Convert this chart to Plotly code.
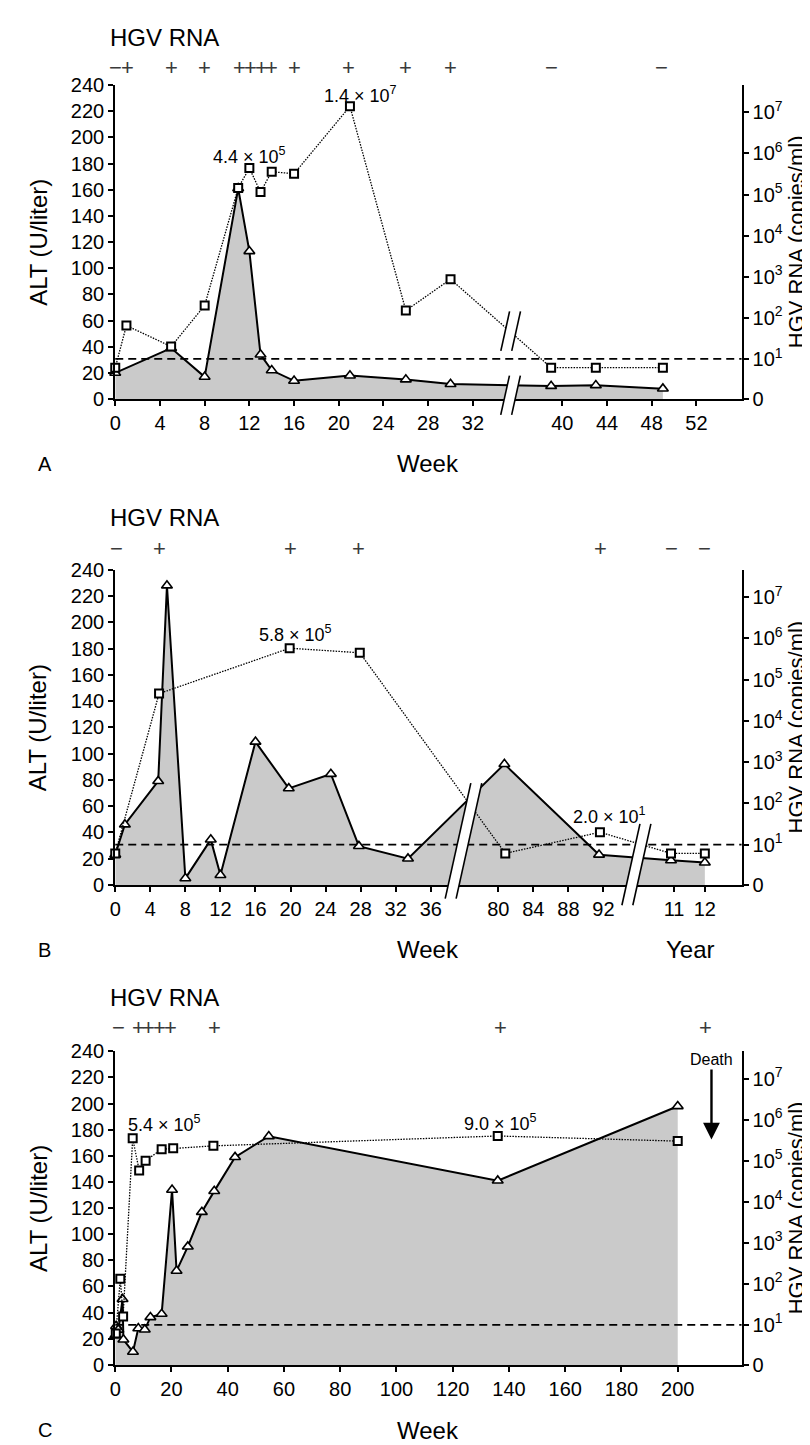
import math
import plotly.graph_objects as go

W, H = 810, 1445
FONT = "Liberation Sans, Arial, Helvetica, sans-serif"
GRAY = "#cacaca"

# ---------------- data ----------------
# Panel A (x in weeks)
A_ALT_WEEK = [0, 5, 8, 11, 12, 13, 14, 16, 21, 26, 30, 39, 43, 49]
A_ALT = [20, 39, 17, 161, 113, 34, 22, 14, 18, 15, 11.5, 10, 10.6, 8]
A_RNA_WEEK = [0, 1, 5, 8, 11, 12, 13, 14, 16, 21, 26, 30, 39, 43, 49]
A_RNA = [0, 65, 20, 200, 1.45e5, 4.4e5, 1.15e5, 3.6e5, 3.2e5, 1.4e7, 150, 870, 0, 0, 0]  # 0 = not detected
A_SIGN_WEEK = [0, 1.1, 5, 8, 11.1, 12.1, 13.1, 14, 16, 20.9, 26, 30, 39, 48.9]
A_SIGN = ["−", "+", "+", "+", "+", "+", "+", "+", "+", "+", "+", "+", "−", "−"]
A_TICKS = [0, 4, 8, 12, 16, 20, 24, 28, 32, 40, 44, 48, 52]

# Panel B (time value + unit: "w" = week, "y" = year)
B_ALT_T = [0, 1.1, 4.9, 5.9, 8, 10.9, 12, 16, 19.8, 24.6, 27.8, 33.4, 80.7, 91.5, 10.9, 12]
B_ALT_U = ["w", "w", "w", "w", "w", "w", "w", "w", "w", "w", "w", "w", "w", "w", "y", "y"]
B_ALT = [23, 46, 79, 228, 5, 34.5, 7.5, 109, 73.5, 84.5, 29.5, 20, 92, 23, 18.7, 17]
B_RNA_T = [0, 5, 19.9, 27.9, 80.8, 91.6, 10.9, 12]
B_RNA_U = ["w", "w", "w", "w", "w", "w", "y", "y"]
B_RNA = [0, 4.6e4, 5.8e5, 4.5e5, 0, 20, 0, 0]
B_SIGN_T = [0.2, 5.1, 20, 27.8, 91.7, 10.9, 12]
B_SIGN_U = ["w", "w", "w", "w", "w", "y", "y"]
B_SIGN = ["−", "+", "+", "+", "+", "−", "−"]
B_TICK_T = [0, 4, 8, 12, 16, 20, 24, 28, 32, 36, 80, 84, 88, 92, 11, 12]
B_TICK_U = ["w", "w", "w", "w", "w", "w", "w", "w", "w", "w", "w", "w", "w", "w", "y", "y"]

# Panel C (x in weeks)
C_ALT_WEEK = [0, 0.3, 1.1, 2.6, 2.9, 6.3, 8.2, 10.5, 12.5, 16.5, 20.2, 21.8, 25.8, 30.8, 35.2, 42.6, 54.6, 136, 200]
C_ALT = [22.6, 29.7, 26.9, 50.3, 19.4, 10, 28, 27, 36.5, 39, 134, 72, 90.5, 117, 133, 159, 175, 141, 198]
C_RNA_WEEK = [0.2, 1.8, 2.8, 6.2, 8.5, 10.8, 16.5, 20.6, 34.9, 136, 200]
C_RNA = [0, 132, 16, 3.5e5, 5.8e4, 1.0e5, 1.9e5, 2.0e5, 2.3e5, 4.0e5, 3.0e5]
C_SIGN_WEEK = [1.2, 8.2, 12, 15.8, 19.5, 35.2, 137, 210]
C_SIGN = ["−", "+", "+", "+", "+", "+", "+", "+"]
C_TICKS = [0, 20, 40, 60, 80, 100, 120, 140, 160, 180, 200]

ALT_TICKS = [0, 20, 40, 60, 80, 100, 120, 140, 160, 180, 200, 220, 240]
RNA_EXP = [1, 2, 3, 4, 5, 6, 7]

# ---------------- scales ----------------
DEC1, DEC, NEG_LEVEL = 30.7, 31.4, 24.0   # right-axis position of 10^1, per decade, "negative"


def rna_pos(c):
    return NEG_LEVEL if c == 0 else DEC1 + (math.log10(c) - 1) * DEC


def b_disp(t, u):
    # panel B axis is broken: weeks 0-36 | weeks 80-92 | years 11-12
    if u == "y":
        return 63.76 + (t - 11) * 3.51
    return t if t <= 40 else t - 36.3


X0, X1 = 102, 733


class Geo:
    def __init__(self, top, bot, xmax):
        self.top, self.bot, self.xmax = top, bot, xmax

    def px(self, x):
        return X0 + x / self.xmax * (X1 - X0)

    def py(self, alt):
        return self.bot - alt / 240 * (self.bot - self.top)


def PX(px):
    return px / W


def PY(py):
    return 1 - py / H


GA = Geo(67, 386, 56.04)
GB = Geo(559.3, 879.3, 71.46)
GC = Geo(1048.3, 1366.7, 222.7)

fig = go.Figure()
annotations = []
shapes = []
layout = {}

panels = [
    dict(g=GA, xa="x", yl="y", yr="y2", letter="A", hgv_y=18.3, sign_y=49.3, title_y=451.7,
         ax=A_ALT_WEEK, ay=A_ALT, rx=A_RNA_WEEK, ry=A_RNA, sx=A_SIGN_WEEK, st=A_SIGN,
         tv=A_TICKS, tt=[str(v) for v in A_TICKS]),
    dict(g=GB, xa="x2", yl="y3", yr="y4", letter="B", hgv_y=505.7, sign_y=537.7, title_y=945,
         ax=[b_disp(t, u) for t, u in zip(B_ALT_T, B_ALT_U)], ay=B_ALT,
         rx=[b_disp(t, u) for t, u in zip(B_RNA_T, B_RNA_U)], ry=B_RNA,
         sx=[b_disp(t, u) for t, u in zip(B_SIGN_T, B_SIGN_U)], st=B_SIGN,
         tv=[b_disp(t, u) for t, u in zip(B_TICK_T, B_TICK_U)], tt=[str(v) for v in B_TICK_T]),
    dict(g=GC, xa="x3", yl="y5", yr="y6", letter="C", hgv_y=993.3, sign_y=1024.3, title_y=1433,
         ax=C_ALT_WEEK, ay=C_ALT, rx=C_RNA_WEEK, ry=C_RNA, sx=C_SIGN_WEEK, st=C_SIGN,
         tv=C_TICKS, tt=[str(v) for v in C_TICKS]),
]

axis_style = dict(ticks="outside", ticklen=5, tickwidth=1.5, tickcolor="black",
                  showline=True, linewidth=2, linecolor="black", showgrid=False,
                  zeroline=False, fixedrange=True,
                  tickfont=dict(size=20, family=FONT, color="black"))


def lname(a):
    return a.replace("x", "xaxis").replace("y", "yaxis")


for p in panels:
    g = p["g"]
    ydom = [PY(g.bot), PY(g.top)]
    layout[lname(p["xa"])] = dict(domain=[PX(X0), PX(X1)], range=[0, g.xmax], anchor=p["yl"],
                                  tickvals=p["tv"], ticktext=p["tt"], **axis_style)
    layout[lname(p["yl"])] = dict(domain=ydom, range=[0, 240], anchor=p["xa"],
                                  tickvals=ALT_TICKS, **axis_style)
    layout[lname(p["yr"])] = dict(range=[0, 240], anchor=p["xa"], overlaying=p["yl"], side="right",
                                  tickvals=[0] + [rna_pos(10 ** k) for k in RNA_EXP],
                                  ticktext=["0"] + ["10<sup>%d</sup>" % k for k in RNA_EXP],
                                  **axis_style)

    fig.add_trace(go.Scatter(
        x=p["ax"], y=p["ay"], xaxis=p["xa"], yaxis=p["yl"], mode="lines+markers",
        fill="tozeroy", fillcolor=GRAY, cliponaxis=False,
        line=dict(color="black", width=2),
        marker=dict(symbol="triangle-up", size=9.5, color="white", line=dict(color="black", width=1.6)),
        hoverinfo="skip"))
    fig.add_trace(go.Scatter(
        x=p["rx"], y=[rna_pos(v) for v in p["ry"]], xaxis=p["xa"], yaxis=p["yr"],
        mode="lines+markers", cliponaxis=False,
        line=dict(color="black", width=1.3, dash="1.5px,1.3px"),
        marker=dict(symbol="square", size=8, color="white", line=dict(color="black", width=2)),
        hoverinfo="skip"))

    # detection limit dashed line (10^1)
    shapes.append(dict(type="line", xref=p["xa"] + " domain", x0=0, x1=1, yref=p["yl"],
                       y0=DEC1, y1=DEC1, line=dict(color="black", width=1.8, dash="8px,5px"),
                       layer="above"))

    # texts
    annotations.append(dict(text="HGV RNA", xref="paper", yref="paper", x=PX(95), y=PY(p["hgv_y"]),
                            xanchor="left", yanchor="middle", showarrow=False,
                            font=dict(size=24, family=FONT, color="black")))
    for sx, st in zip(p["sx"], p["st"]):
        annotations.append(dict(text=st, xref=p["xa"], yref="paper", x=sx, y=PY(p["sign_y"]),
                                xanchor="center", yanchor="middle", showarrow=False,
                                font=dict(size=22, family=FONT, color="#3a3a3a")))
    mid = (g.top + g.bot) / 2
    annotations.append(dict(text="ALT (U/liter)", xref="paper", yref="paper", x=PX(24), y=PY(mid),
                            textangle=-90, showarrow=False, xanchor="center", yanchor="middle",
                            font=dict(size=24, family=FONT, color="black")))
    annotations.append(dict(text="HGV RNA (copies/ml)", xref="paper", yref="paper", x=PX(788), y=PY(mid),
                            textangle=-90, showarrow=False, xanchor="center", yanchor="middle",
                            font=dict(size=22, family=FONT, color="black")))
    annotations.append(dict(text="Week", xref="paper", yref="paper", x=PX(417.5), y=PY(p["title_y"]),
                            showarrow=False, xanchor="center", yanchor="middle",
                            font=dict(size=24, family=FONT, color="black")))
    annotations.append(dict(text=p["letter"], xref="paper", yref="paper", x=PX(31), y=PY(p["title_y"]),
                            showarrow=False, xanchor="center", yanchor="middle",
                            font=dict(size=20, family=FONT, color="black")))

annotations.append(dict(text="Year", xref="paper", yref="paper", x=PX(681.7), y=PY(945),
                        showarrow=False, xanchor="center", yanchor="middle",
                        font=dict(size=24, family=FONT, color="black")))

# value labels
labels = [
    ("x", "y2", 12, rna_pos(4.4e5), "4.4 × 10<sup>5</sup>", 0, 13, "center"),
    ("x", "y2", 21, rna_pos(1.4e7), "1.4 × 10<sup>7</sup>", 11, 12, "center"),
    ("x2", "y4", b_disp(19.9, "w"), rna_pos(5.8e5), "5.8 × 10<sup>5</sup>", 6, 15, "center"),
    ("x2", "y4", b_disp(91.6, "w"), rna_pos(20), "2.0 × 10<sup>1</sup>", 10, 17, "center"),
    ("x3", "y6", 6.2, rna_pos(3.5e5), "5.4 × 10<sup>5</sup>", -7, 15, "left"),
    ("x3", "y6", 136, rna_pos(4.0e5), "9.0 × 10<sup>5</sup>", 3, 13, "center"),
]
for xa, ya, x, y, t, xs, ys, anc in labels:
    annotations.append(dict(text=t, xref=xa, yref=ya, x=x, y=y, xshift=xs, yshift=ys,
                            xanchor=anc, yanchor="middle", showarrow=False,
                            font=dict(size=18, family=FONT, color="black")))

# Death arrow
annotations.append(dict(text="Death", xref="x3", yref="y6", x=212, y=172.5, ax=0, ay=-80,
                        showarrow=True, arrowhead=2, arrowsize=1.4, arrowwidth=2.4, arrowcolor="black",
                        font=dict(size=16, family=FONT, color="black")))


# axis breaks
def add_break(g, xc_data, alt_lo, alt_hi, slant=0.22, gap=11):
    xc = g.px(xc_data)
    yb, yt = g.py(alt_lo), g.py(alt_hi)
    s = slant * (yb - yt) / 2
    l1 = [(xc - gap / 2 - s, yb), (xc - gap / 2 + s, yt)]
    l2 = [(xc + gap / 2 - s, yb), (xc + gap / 2 + s, yt)]
    pts = [l1[0], l1[1], l2[1], l2[0]]
    path = "M " + " L ".join("%.5f,%.5f" % (PX(a), PY(b)) for a, b in pts) + " Z"
    shapes.append(dict(type="path", path=path, xref="paper", yref="paper",
                       fillcolor="white", line=dict(width=0), layer="above"))
    for (a0, b0), (a1, b1) in (l1, l2):
        shapes.append(dict(type="line", xref="paper", yref="paper", x0=PX(a0), y0=PY(b0),
                           x1=PX(a1), y1=PY(b1), line=dict(color="black", width=1.6), layer="above"))


add_break(GA, 35.37, -12, 18)
add_break(GA, 35.38, 36.9, 67)
add_break(GB, 39.73, -10.5, 77.5)
add_break(GB, 59.46, -15.5, 46.5)

fig.update_layout(
    width=W, height=H, autosize=False,
    margin=dict(l=0, r=0, t=0, b=0, pad=0),
    paper_bgcolor="white", plot_bgcolor="white",
    showlegend=False, hovermode=False,
    font=dict(family=FONT, color="black"),
    annotations=annotations, shapes=shapes,
    **layout,
)

fig.write_html("out.html")
